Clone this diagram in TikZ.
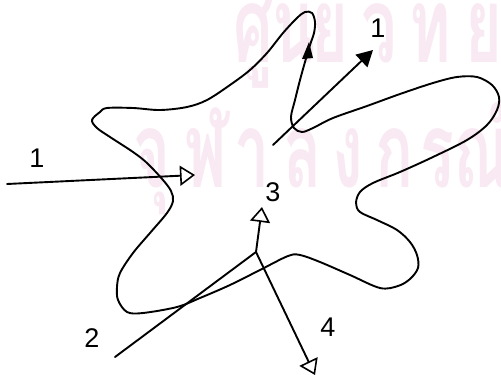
\documentclass[tikz,border=0pt]{standalone}
\usepackage{fontspec}
\setmainfont{Liberation Sans}
\newfontfamily\thaifont[Script=Thai]{Loma}
\usetikzlibrary{arrows.meta}
\definecolor{wm}{RGB}{249,233,242}
\tikzset{
  ink/.style={line width=1.9pt, line cap=round, line join=round, black},
  openhead/.style={-{Triangle[open,length=15pt,width=20pt,line width=1.6pt]}},
  fullhead/.style={-{Triangle[length=16pt,width=17pt]}},
  lbl/.style={font=\fontsize{27}{27}\selectfont, inner sep=0pt},
  wmk/.style={font=\thaifont\bfseries\fontsize{105}{105}\selectfont, text=wm, anchor=base, inner sep=0pt, xscale=0.6}
}
\begin{document}
\begin{tikzpicture}[x=1pt,y=-1pt]
\useasboundingbox (0,0) rectangle (501,375);
% watermark
\begin{scope}
\clip (0,0) rectangle (501,375);
\node[wmk] (w1) at (253,62) {ศู};
\node[wmk] (w2) at (294,62) {น};
\node[wmk] (w3) at (330,62) {ย์};
\node[wmk] (w4) at (379,62) {วิ};
\node[wmk] (w5) at (430,62) {ท};
\node[wmk] (w6) at (484,62) {ย};
\node[wmk] (v1) at (152,187) {จุ};
\node[wmk] (v2) at (206,187) {ฬ};
\node[wmk] (v3) at (252,187) {า};
\node[wmk] (v4) at (303,187) {ล};
\node[wmk] (v5) at (348,187) {ง};
\node[wmk] (v6) at (395,187) {ก};
\node[wmk] (v7) at (437,187) {ร};
\node[wmk] (v8) at (483,187) {ณ์};
\end{scope}
% outline of the blob
\draw[ink] plot[smooth cycle, tension=0.55] coordinates {
 (92,120) (100,112) (107,108) (133,108) (160,110) (187,107) (207,100)
 (230,85) (250,70) (267,53) (283,33) (297,18) (305,12) (312,13) (315,22)
 (314,33) (310,45) (305,62) (300,80) (295,100) (291,117) (294,128) (302,132)
 (313,128) (333,118) (367,106) (400,94) (433,83) (457,77) (477,77) (492,85)
 (499,97) (497,110) (487,125) (467,140) (433,157) (400,172) (373,183)
 (360,192) (356,203) (360,212) (377,220) (397,230) (410,242) (417,255)
 (418,268) (410,279) (398,286) (380,288) (350,275) (320,262) (300,255)
 (288,256) (260,270) (230,285) (200,298) (177,307) (143,313) (127,312)
 (118,300) (117,287) (120,273) (133,253) (150,233) (167,213) (173,201)
 (171,191) (163,180) (147,163) (133,152) (110,137) (97,128)};
% small arrow mark on the outline
\fill (309,42) -- (302,59) -- (313,58) -- cycle;
% coordinates
\coordinate (a1s) at (7,184);
\coordinate (a1e) at (195,175);
\coordinate (b1s) at (273,145);
\coordinate (b1e) at (373,50);
\coordinate (a2s) at (115,357);
\coordinate (J) at (256,252);
\coordinate (a3e) at (262,207);
\coordinate (a4e) at (315,375);
% arrows
\draw[ink,openhead] (a1s) -- (a1e);
\draw[ink,fullhead] (b1s) -- (b1e);
\draw[ink] (a2s) -- (J);
\draw[ink,openhead] (J) -- (a3e);
\draw[ink,openhead] (J) -- (a4e);
% labels
\node[lbl] (l1) at (37,158) {1};
\node[lbl] (l1b) at (378,28) {1};
\node[lbl] (l2) at (92,338) {2};
\node[lbl] (l3) at (273,192) {3};
\node[lbl] (l4) at (328,327) {4};
\end{tikzpicture}
\end{document}
